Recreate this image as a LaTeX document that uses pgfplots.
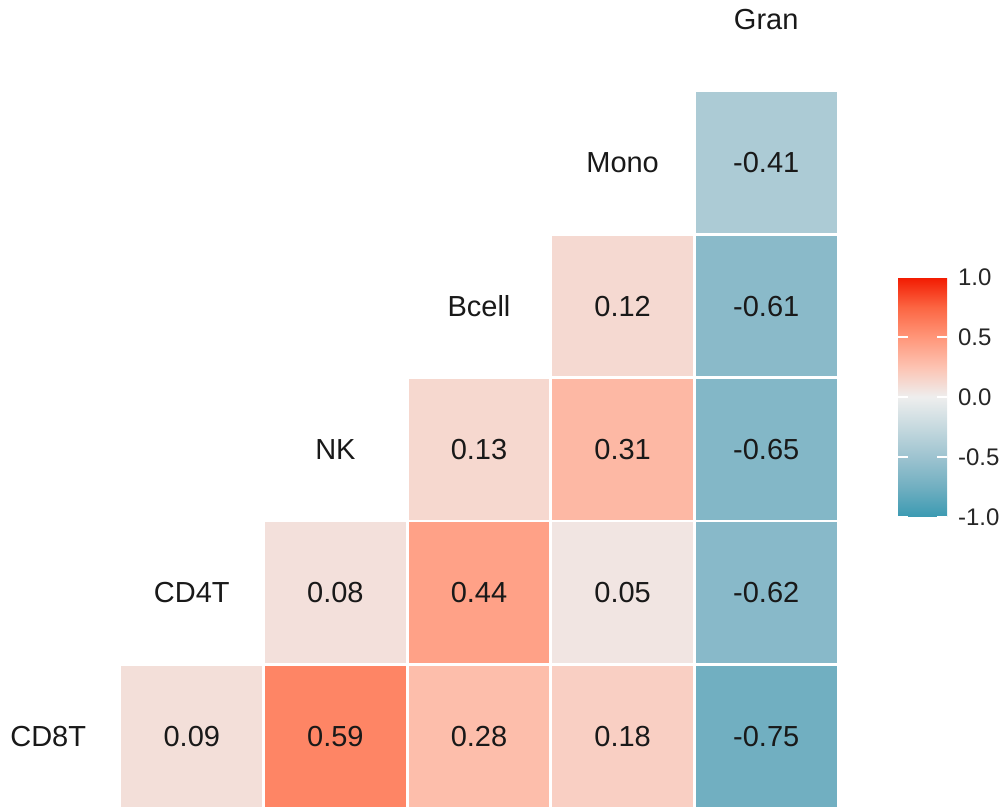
\documentclass[border=0pt]{standalone}
\usepackage{pgfplots}
\pgfplotsset{compat=1.18}
\usepackage{fontspec}
\setmainfont{Liberation Sans}
\pgfplotsset{
  colormap={ggcorr}{rgb255=(59,154,178) rgb255=(113,175,193) rgb255=(157,195,208) rgb255=(198,217,223) rgb255=(238,238,238) rgb255=(253,195,178) rgb255=(255,150,121) rgb255=(252,101,66) rgb255=(242,26,0)}
}
\begin{document}
\begin{tikzpicture}
\path[use as bounding box] (0,0) rectangle (503.5pt,404.5pt);
\begin{axis}[
  at={(0,0)}, anchor=south west,
  scale only axis, width=503.5pt, height=404.5pt,
  xmin=-1.3357, xmax=5.6768, ymin=-0.507, ymax=5.1346,
  hide axis, clip=false,
  colormap name=ggcorr,
  point meta min=-1, point meta max=1,
  colorbar,
  colorbar/width=24.5pt,
  colorbar style={
    at={(parent axis.south west)}, anchor=south west,
    xshift=440.5pt, yshift=146pt,
    scale only axis, width=24.5pt, height=120pt,
    ytick={-1,-0.5,0,0.5,1},
    yticklabels={-1.0,-0.5,0.0,0.5,1.0},
    yticklabel style={font=\fontsize{12}{12}\selectfont, text=black!85, anchor=west, xshift=2pt},
    axis line style={draw=none},
    major tick length=5pt, tick align=inside,
    ytick style={draw=white, line width=1pt},
    ytick pos=both, yticklabel pos=right,
  },
]
% correlation cells
\addplot[scatter, only marks, mark=square*, mark size=35.6pt,
  mark options={line width=0.8pt},
  scatter/use mapped color={draw=white, fill=mapped color},
  point meta=explicit]
  table[x=c, y=r, meta=v] {
c r v
0 0 0.09
1 0 0.59
2 0 0.28
3 0 0.18
4 0 -0.75
1 1 0.08
2 1 0.44
3 1 0.05
4 1 -0.62
2 2 0.13
3 2 0.31
4 2 -0.65
3 3 0.12
4 3 -0.61
4 4 -0.41
};
% cell values
\addplot[draw=none, mark=none, point meta=explicit symbolic,
  nodes near coords, nodes near coords align=center,
  every node near coord/.append style={font=\fontsize{14.5}{14.5}\selectfont, text=black!90, anchor=center}]
  table[x=c, y=r, meta=v] {
c r v
0 0 0.09
1 0 0.59
2 0 0.28
3 0 0.18
4 0 -0.75
1 1 0.08
2 1 0.44
3 1 0.05
4 1 -0.62
2 2 0.13
3 2 0.31
4 2 -0.65
3 3 0.12
4 3 -0.61
4 4 -0.41
};
% variable names on the diagonal
\addplot[draw=none, mark=none, point meta=explicit symbolic,
  nodes near coords, nodes near coords align=center,
  every node near coord/.append style={font=\fontsize{14.5}{14.5}\selectfont, text=black!90, anchor=center}]
  table[x=c, y=r, meta=lab] {
c r lab
-1 0 CD8T
0 1 CD4T
1 2 NK
2 3 Bcell
3 4 Mono
4 5 Gran
};
\end{axis}
\end{tikzpicture}
\end{document}
